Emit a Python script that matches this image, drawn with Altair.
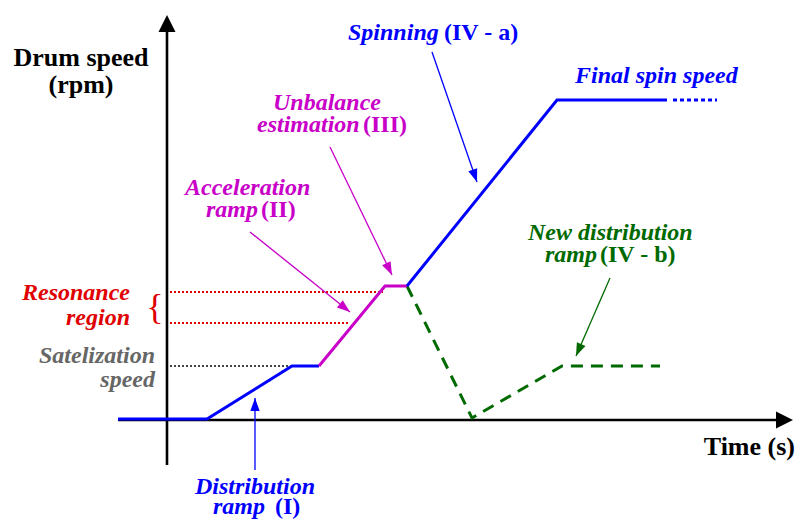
import math
import altair as alt
import pandas as pd

# ---- schematic units: 1 unit ~ 1 px, origin where the two axes cross ----
X_DOMAIN = [-159, 628]
Y_DOMAIN = [-99, 412]
W, H = 787, 511

# speed profile pieces (time, speed)
dist_t = [-49, 40, 125, 152]
dist_v = [1, 1, 54, 54]
accel_t = [152, 218, 240]
accel_v = [54, 134, 134]
spin_t = [240, 390, 500]
spin_v = [134, 320, 320]
final_t = [506, 550]
final_v = [320, 320]
newdist_t = [240, 305, 395, 493]
newdist_v = [134, 2, 54, 54]

# reference levels (start, end, speed)
level_t0 = [3, 3, 3]
level_t1 = [216, 183, 125]
level_v = [128, 97, 54]
level_color = ["#e00000", "#e00000", "#444444"]

# annotation arrows (from -> to)
arrow_t0 = [265, 163, 83, 88, 443]
arrow_v0 = [368, 273, 188, -50, 142]
arrow_t1 = [310, 225, 183, 88, 409]
arrow_v1 = [238, 145, 108, 22, 64]
arrow_color = ["#0000ff", "#c800c8", "#c800c8", "#0000ff", "#006a00"]

# axes (from -> arrow tip)
axis_t0 = [0, -49]
axis_v0 = [-45, 0]
axis_t1 = [0, 626]
axis_v1 = [405, 0]

# labels
lab_text = ["Spinning", "(IV - a)", "Final spin speed", "Unbalance", "estimation", "(III)",
            "Acceleration", "ramp", "(II)", "New distribution", "ramp", "(IV - b)",
            "Resonance", "region", "Satelization", "speed", "Distribution", "ramp", "(I)"]
lab_t = [181, 277, 408, 106, 90, 196, 18, 39, 94, 361, 378, 433, -37, -37, -12, -12, 28, 46, 108]
lab_v = [380, 380, 337, 310, 288, 288, 225, 203, 203, 180, 158, 158, 120, 95, 57, 33, -74, -94, -94]
lab_color = ["#0000ff", "#0000ff", "#0000ff", "#c800c8", "#c800c8", "#c800c8",
             "#c800c8", "#c800c8", "#c800c8", "#006a00", "#006a00", "#006a00",
             "#e00000", "#e00000", "#666666", "#666666", "#0000ff", "#0000ff", "#0000ff"]
lab_italic = [1, 0, 1, 1, 1, 0, 1, 1, 0, 1, 1, 0, 1, 1, 1, 1, 1, 1, 0]
lab_align = ["left", "left", "left", "left", "left", "left", "left", "left", "left", "left",
             "left", "left", "right", "right", "right", "right", "left", "left", "left"]

title_text = ["Drum speed", "(rpm)", "Time (s)"]
title_t = [-86, -86, 628]
title_v = [354, 327, -35]
title_align = ["center", "center", "right"]

brace_text = ["{"]
brace_t = [-12]
brace_v = [112]

FONT = "Liberation Serif, 'Times New Roman', Times, serif"
xs = alt.Scale(domain=X_DOMAIN, nice=False, zero=False)
ys = alt.Scale(domain=Y_DOMAIN, nice=False, zero=False)


def heading(t0, v0, t1, v1):
    return (math.degrees(math.atan2(t1 - t0, v1 - v0)) + 360) % 360


def line_layer(t, v, color, width, dash=None):
    df = pd.DataFrame({"t": t, "v": v, "o": range(len(t))})
    kw = dict(color=color, strokeWidth=width, strokeCap="butt", strokeJoin="miter")
    if dash:
        kw["strokeDash"] = dash
    return alt.Chart(df).mark_line(**kw).encode(
        x=alt.X("t:Q", scale=xs, axis=None),
        y=alt.Y("v:Q", scale=ys, axis=None),
        order="o:Q",
    )


layers = []

# reference dotted levels
lev = pd.DataFrame({"t0": level_t0, "t1": level_t1, "v": level_v, "c": level_color})
layers.append(alt.Chart(lev).mark_rule(strokeWidth=2, strokeDash=[2, 2]).encode(
    x=alt.X("t0:Q", scale=xs, axis=None), x2="t1:Q",
    y=alt.Y("v:Q", scale=ys, axis=None),
    color=alt.Color("c:N", scale=None)))

# axes
ax = pd.DataFrame({"t0": axis_t0, "v0": axis_v0, "t1": axis_t1, "v1": axis_v1})
ax["t1s"] = [t - (0 if a == b else 12) for t, a, b in zip(axis_t1, axis_t0, axis_t1)]
ax["v1s"] = [v - (12 if a == b else 0) for v, a, b in zip(axis_v1, axis_t0, axis_t1)]
ax["ang"] = [heading(a, b, c, d) for a, b, c, d in zip(axis_t0, axis_v0, axis_t1, axis_v1)]
layers.append(alt.Chart(ax).mark_rule(color="black", strokeWidth=2.6).encode(
    x=alt.X("t0:Q", scale=xs, axis=None), x2="t1s:Q",
    y=alt.Y("v0:Q", scale=ys, axis=None), y2="v1s:Q"))
layers.append(alt.Chart(ax).mark_point(
    shape="M0,0L-0.5,1L0.5,1Z", filled=True, color="black", opacity=1, size=1156).encode(
    x=alt.X("t1:Q", scale=xs, axis=None),
    y=alt.Y("v1:Q", scale=ys, axis=None),
    angle=alt.Angle("ang:Q", scale=None)))

# speed profile
layers.append(line_layer(newdist_t, newdist_v, "#006a00", 3, [12, 8]))
layers.append(line_layer(dist_t, dist_v, "#0000ff", 3))
layers.append(line_layer(accel_t, accel_v, "#c800c8", 3))
layers.append(line_layer(spin_t, spin_v, "#0000ff", 3))
layers.append(line_layer(final_t, final_v, "#0000ff", 3, [4, 3]))

# annotation arrows
ar = pd.DataFrame({"t0": arrow_t0, "v0": arrow_v0, "t1": arrow_t1, "v1": arrow_v1, "c": arrow_color})
ar["ang"] = [heading(a, b, c, d) for a, b, c, d in zip(arrow_t0, arrow_v0, arrow_t1, arrow_v1)]
layers.append(alt.Chart(ar).mark_rule(strokeWidth=1.3).encode(
    x=alt.X("t0:Q", scale=xs, axis=None), x2="t1:Q",
    y=alt.Y("v0:Q", scale=ys, axis=None), y2="v1:Q",
    color=alt.Color("c:N", scale=None)))
layers.append(alt.Chart(ar).mark_point(
    shape="M0,0L-0.36,1L0.36,1Z", filled=True, opacity=1, size=676).encode(
    x=alt.X("t1:Q", scale=xs, axis=None),
    y=alt.Y("v1:Q", scale=ys, axis=None),
    angle=alt.Angle("ang:Q", scale=None),
    color=alt.Color("c:N", scale=None)))

# labels
lab = pd.DataFrame({"text": lab_text, "t": lab_t, "v": lab_v, "c": lab_color,
                    "it": lab_italic, "al": lab_align})
for it in (1, 0):
    for al in ("left", "right"):
        sub = lab[(lab.it == it) & (lab.al == al)]
        if sub.empty:
            continue
        layers.append(alt.Chart(sub).mark_text(
            font=FONT, fontSize=24, fontWeight="bold",
            fontStyle="italic" if it else "normal",
            align=al, baseline="alphabetic").encode(
            x=alt.X("t:Q", scale=xs, axis=None),
            y=alt.Y("v:Q", scale=ys, axis=None),
            text="text:N",
            color=alt.Color("c:N", scale=None)))

tit = pd.DataFrame({"text": title_text, "t": title_t, "v": title_v, "al": title_align})
for al in ("center", "right"):
    layers.append(alt.Chart(tit[tit.al == al]).mark_text(
        font=FONT, fontSize=26, fontWeight="bold", color="black",
        align=al, baseline="alphabetic").encode(
        x=alt.X("t:Q", scale=xs, axis=None),
        y=alt.Y("v:Q", scale=ys, axis=None),
        text="text:N"))

br = pd.DataFrame({"text": brace_text, "t": brace_t, "v": brace_v})
layers.append(alt.Chart(br).mark_text(
    font=FONT, fontSize=36, color="#e00000", align="center", baseline="middle").encode(
    x=alt.X("t:Q", scale=xs, axis=None),
    y=alt.Y("v:Q", scale=ys, axis=None),
    text="text:N"))

chart = alt.layer(*layers).properties(
    width=W, height=H, padding=0, autosize=alt.AutoSizeParams(type="none"),
    background="white",
).configure_view(stroke=None)

chart.save("out.html", embed_options={"renderer": "svg", "actions": False})
